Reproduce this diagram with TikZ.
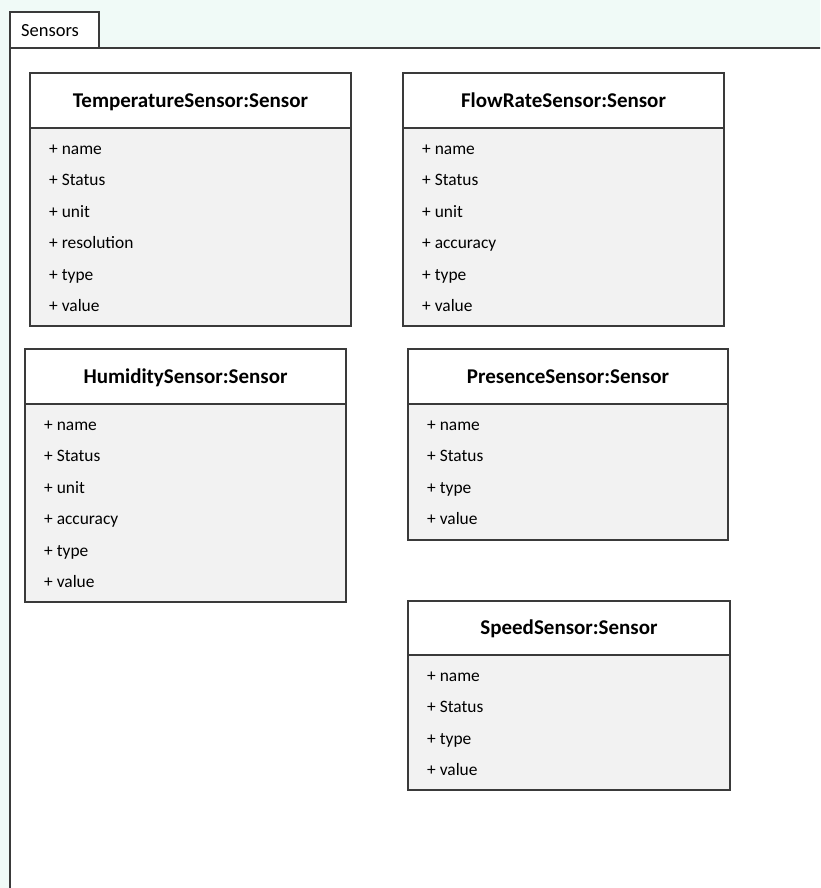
\documentclass[tikz,border=0pt]{standalone}
\usepackage{fontspec}
\setmainfont{Carlito}
\definecolor{pagetint}{HTML}{F0FAF7}
\definecolor{linegray}{HTML}{3A3A3A}
\definecolor{bodygray}{HTML}{F2F2F2}
\tikzset{
  classframe/.style={draw=linegray, line width=1.3pt},
  pkgframe/.style={draw=linegray, line width=1.4pt},
  titletext/.style={font=\fontsize{21}{25}\selectfont\bfseries, inner sep=0pt, anchor=base},
  attrtext/.style={font=\fontsize{17.4}{20}\selectfont, inner sep=0pt, anchor=base west},
  tabtext/.style={font=\fontsize{18.5}{22}\selectfont, inner sep=0pt, anchor=base west},
}
% #1 id, #2 left, #3 top, #4 right, #5 header bottom, #6 bottom, #7 title, #8 attributes
\newcommand\classbox[8]{%
  \draw[classframe, fill=white] (#2,#3) rectangle (#4,#5);
  \draw[classframe, fill=bodygray] (#2,#5) rectangle (#4,#6);
  \node[titletext] (#1-title) at ({(#2+#4)/2},{(#3+#5)/2+6.8}) {#7};
  \foreach \attr [count=\k] in {#8}
    \node[attrtext] (#1-a\k) at ({#2+19},{#5+26.5+31.4*(\k-1)}) {+ \attr};
}
\begin{document}
\begin{tikzpicture}[x=1pt, y=-1pt]
  \useasboundingbox (0,0) rectangle (820,888);
  \clip (0,0) rectangle (820,888);
  % page background and package frame
  \fill[pagetint] (0,0) rectangle (820,888);
  \draw[pkgframe, fill=white] (10,48) rectangle (840,910);
  \draw[pkgframe, fill=white] (10,12) rectangle (99,48);
  \node[tabtext] (pkg-tab) at (21,36.5) {Sensors};

  \classbox{temp}{30}{73}{351}{128}{326}{TemperatureSensor:Sensor}{name,Status,unit,resolution,type,value}
  \classbox{flow}{403}{73}{724}{128}{326}{FlowRateSensor:Sensor}{name,Status,unit,accuracy,type,value}
  \classbox{hum}{25}{349}{346}{404}{602}{HumiditySensor:Sensor}{name,Status,unit,accuracy,type,value}
  \classbox{pres}{408}{349}{728}{404}{540}{PresenceSensor:Sensor}{name,Status,type,value}
  \classbox{speed}{408}{601}{730}{655}{790}{SpeedSensor:Sensor}{name,Status,type,value}
\end{tikzpicture}
\end{document}
